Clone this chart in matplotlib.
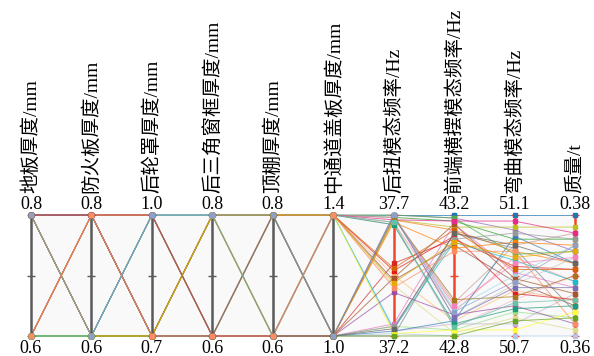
"""
Parallel coordinates plot of DOE samples: panel thicknesses vs modal frequencies and mass
"""

import matplotlib
matplotlib.use('Agg')
import matplotlib.pyplot as plt

# axis names (rotated labels)
labels = ['地板厚度/mm', '防火板厚度/mm', '后轮罩厚度/mm', '后三角窗框厚度/mm',
          '顶棚厚度/mm', '中通道盖板厚度/mm', '后扭模态频率/Hz',
          '前端横摆模态频率/Hz', '弯曲模态频率/Hz', '质量/t']
top_labels = ['0.8', '0.8', '1.0', '0.8', '0.8', '1.4', '37.7', '43.2', '51.1', '0.38']
bottom_labels = ['0.6', '0.6', '0.7', '0.6', '0.6', '1.0', '37.2', '42.8', '50.7', '0.36']
lo = [0.6, 0.6, 0.7, 0.6, 0.6, 1.0, 37.2, 42.8, 50.7, 0.36]
hi = [0.8, 0.8, 1.0, 0.8, 0.8, 1.4, 37.7, 43.2, 51.1, 0.38]

# sample values, one list per axis
floor = [0.8, 0.6, 0.8, 0.6, 0.8, 0.6, 0.8, 0.6, 0.8, 0.6,
         0.8, 0.6, 0.8, 0.6, 0.6, 0.8, 0.8, 0.6, 0.8, 0.6,
         0.8, 0.6, 0.8, 0.6, 0.8, 0.6, 0.8, 0.6, 0.8, 0.6,
         0.6, 0.8, 0.8, 0.6, 0.8, 0.6, 0.8, 0.6, 0.6, 0.8]
firewall = [0.8, 0.6, 0.6, 0.8, 0.8, 0.6, 0.6, 0.8, 0.8, 0.6,
            0.6, 0.8, 0.8, 0.6, 0.8, 0.6, 0.8, 0.6, 0.6, 0.8,
            0.8, 0.6, 0.6, 0.8, 0.8, 0.6, 0.6, 0.8, 0.8, 0.6,
            0.8, 0.6, 0.8, 0.6, 0.6, 0.8, 0.8, 0.6, 0.8, 0.6]
wheelhouse = [1.0, 0.7, 1.0, 0.7, 0.7, 1.0, 0.7, 1.0, 1.0, 0.7,
              0.7, 1.0, 0.7, 1.0, 0.7, 1.0, 1.0, 0.7, 0.7, 1.0,
              0.7, 1.0, 1.0, 0.7, 1.0, 0.7, 0.7, 1.0, 0.7, 1.0,
              0.7, 1.0, 1.0, 0.7, 0.7, 1.0, 0.7, 1.0, 0.7, 1.0]
window = [0.8, 0.6, 0.6, 0.8, 0.6, 0.8, 0.8, 0.6, 0.6, 0.8,
          0.6, 0.8, 0.8, 0.6, 0.6, 0.8, 0.8, 0.6, 0.6, 0.8,
          0.6, 0.8, 0.6, 0.8, 0.6, 0.8, 0.8, 0.6, 0.8, 0.6,
          0.8, 0.6, 0.6, 0.8, 0.8, 0.6, 0.6, 0.8, 0.6, 0.8]
roof = [0.8, 0.6, 0.8, 0.6, 0.8, 0.6, 0.8, 0.6, 0.6, 0.8,
        0.6, 0.8, 0.6, 0.8, 0.8, 0.6, 0.6, 0.8, 0.8, 0.6,
        0.6, 0.8, 0.8, 0.6, 0.8, 0.6, 0.6, 0.8, 0.8, 0.6,
        0.8, 0.6, 0.6, 0.8, 0.8, 0.6, 0.8, 0.6, 0.6, 0.8]
tunnel = [1.4, 1.0, 1.0, 1.4, 1.4, 1.0, 1.0, 1.4, 1.0, 1.4,
          1.4, 1.0, 1.0, 1.4, 1.0, 1.4, 1.0, 1.4, 1.4, 1.0,
          1.4, 1.0, 1.4, 1.0, 1.0, 1.4, 1.0, 1.4, 1.0, 1.4,
          1.4, 1.0, 1.4, 1.0, 1.4, 1.0, 1.0, 1.4, 1.4, 1.0]
torsion = [37.70, 37.21, 37.68, 37.45, 37.69, 37.24, 37.50, 37.67, 37.70, 37.22,
           37.43, 37.69, 37.25, 37.66, 37.20, 37.70, 37.68, 37.41, 37.23, 37.69,
           37.47, 37.22, 37.70, 37.38, 37.67, 37.21, 37.44, 37.69, 37.24, 37.66,
           37.48, 37.70, 37.68, 37.20, 37.42, 37.69, 37.23, 37.67, 37.40, 37.70]
lateral = [43.20, 42.80, 43.15, 42.85, 43.18, 42.82, 43.12, 42.88, 43.19, 42.84,
           43.10, 42.91, 43.17, 42.83, 43.14, 42.86, 43.16, 42.81, 43.11, 42.89,
           43.13, 42.85, 43.19, 42.87, 43.09, 42.82, 43.17, 42.90, 43.12, 42.84,
           43.15, 42.86, 43.18, 42.80, 43.11, 42.92, 43.14, 42.83, 43.08, 42.88]
bending = [51.10, 50.70, 50.98, 50.85, 51.02, 50.78, 50.93, 50.96, 51.05, 50.74,
           50.88, 51.00, 50.91, 50.82, 50.99, 50.87, 51.06, 50.76, 50.95, 50.90,
           50.84, 51.03, 50.97, 50.80, 51.01, 50.72, 50.89, 50.94, 51.04, 50.79,
           50.92, 50.86, 51.08, 50.75, 50.96, 50.83, 51.00, 50.81, 50.98, 50.88]
mass = [0.380, 0.360, 0.372, 0.366, 0.376, 0.363, 0.371, 0.369, 0.374, 0.367,
        0.365, 0.377, 0.368, 0.370, 0.364, 0.373, 0.378, 0.361, 0.369, 0.375,
        0.366, 0.372, 0.374, 0.362, 0.375, 0.364, 0.367, 0.373, 0.376, 0.365,
        0.371, 0.368, 0.377, 0.363, 0.374, 0.370, 0.372, 0.366, 0.362, 0.375]

columns = [floor, firewall, wheelhouse, window, roof, tunnel, torsion, lateral, bending, mass]
n_axes = len(columns)
n_samples = len(floor)

# line colours
palette = (list(plt.cm.tab20.colors) + list(plt.cm.Set1.colors)
           + list(plt.cm.Dark2.colors) + list(plt.cm.Set2.colors))

W, H = 594, 356
fig = plt.figure(figsize=(W / 100, H / 100), dpi=100)
ax = fig.add_axes([31 / W, 1 - 336 / H, 544 / W, 121 / H])
ax.set_xlim(0, n_axes - 1)
ax.set_ylim(0, 1)
ax.set_facecolor('#f9f9f9')
for s in ax.spines.values():
    s.set_visible(False)
ax.set_xticks([])
ax.set_yticks([])

xs = list(range(n_axes))

# sample polylines (normalised to each axis range)
for i in range(n_samples):
    ys = [(columns[j][i] - lo[j]) / (hi[j] - lo[j]) for j in range(n_axes)]
    c = palette[i % len(palette)]
    ax.plot(xs, ys, color=c, lw=0.7, alpha=0.7, zorder=2, clip_on=False)
    ax.plot(xs, ys, ls='none', marker='s', ms=2.2, color=c, zorder=5, clip_on=False)

# vertical axes
serif = ['Liberation Serif', 'Noto Sans CJK SC']
for j in range(n_axes):
    axis_color = '#5a5a5a' if j < 6 else '#f2462a'
    ax.plot([j, j], [0, 1], color=axis_color, lw=1.8, zorder=4, clip_on=False)
    ax.plot([j, j, j], [0, 0.5, 1], ls='none', marker='_', ms=6, mew=1.0,
            color=axis_color, zorder=4, clip_on=False)
    ax.text(j, 1.085, top_labels[j], ha='center', va='center', fontsize=13, family=serif)
    ax.text(j, -0.10, bottom_labels[j], ha='center', va='center', fontsize=13, family=serif)
    ax.text(j, 1.18, labels[j], ha='center', va='bottom', rotation=90,
            fontsize=14, family=serif)

fig.savefig('out.png', dpi=100)
plt.close(fig)
